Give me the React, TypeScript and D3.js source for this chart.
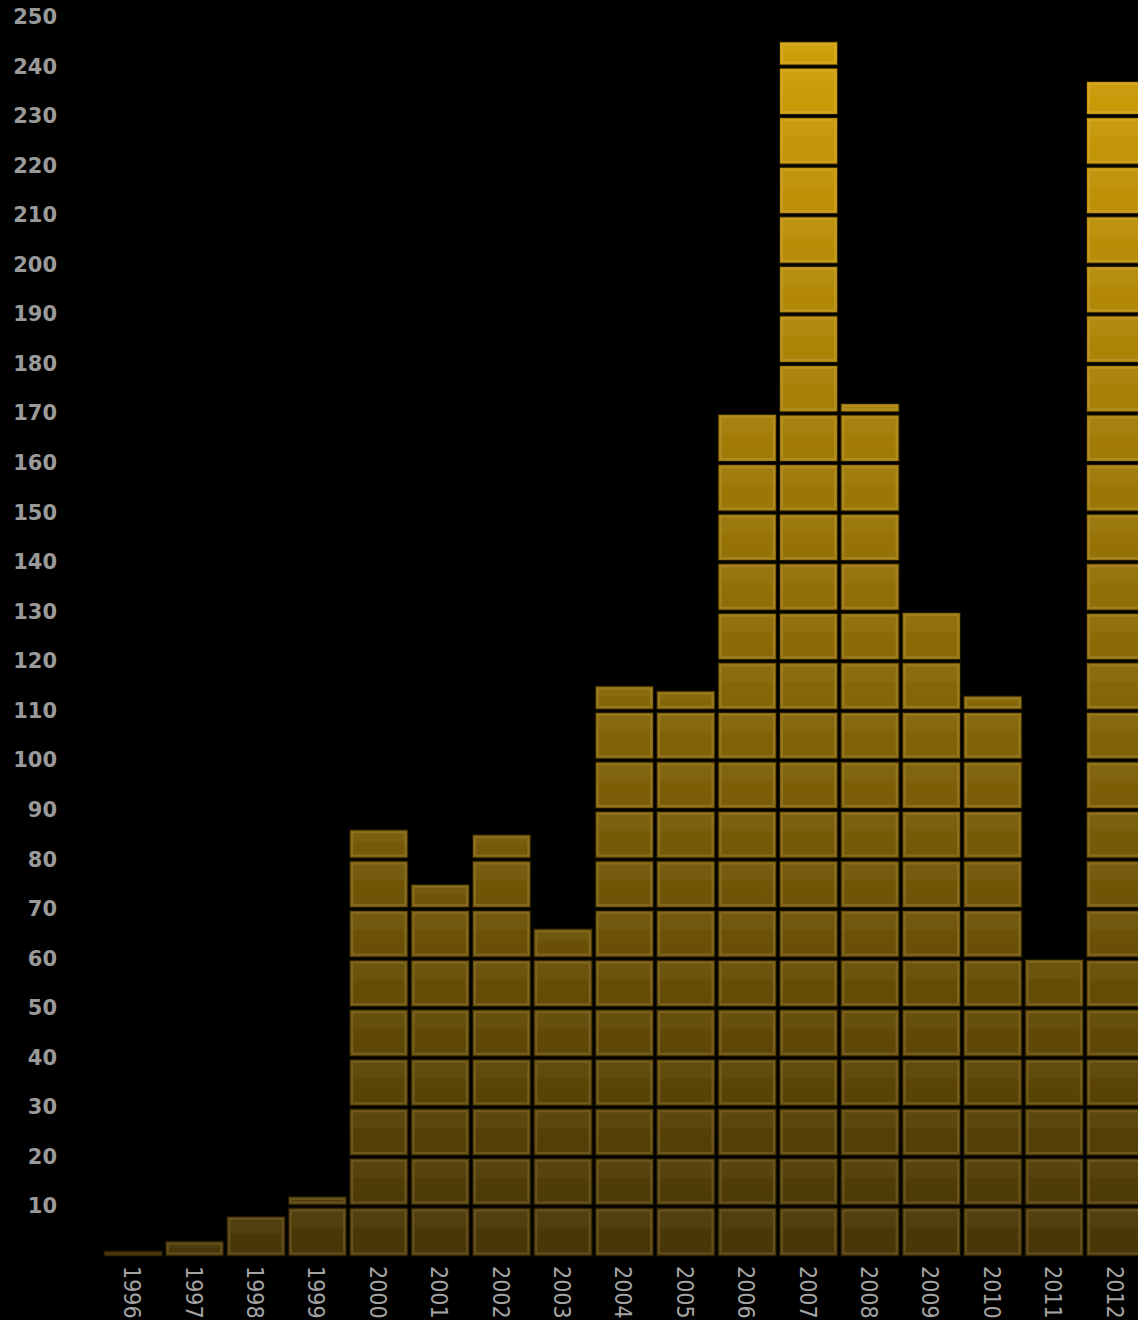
import React from "react";
import * as d3 from "d3";

const years = ["1996","1997","1998","1999","2000","2001","2002","2003","2004","2005","2006","2007","2008","2009","2010","2011","2012"];
const counts = [1, 3, 8, 12, 86, 75, 85, 66, 115, 114, 170, 245, 172, 130, 113, 60, 237];
const yTicks = [10,20,30,40,50,60,70,80,90,100,110,120,130,140,150,160,170,180,190,200,210,220,230,240,250];

const W = 1138;
const H = 1320;
const STEP = 10;
const HALF_GAP = 1.5;

export default function App() {
  const x = d3.scaleBand<string>()
    .domain(years)
    .range([102.5, 102.5 + years.length * 61.4])
    .paddingInner(0.05)
    .paddingOuter(0.025);
  const y = d3.scaleLinear().domain([0, 250]).range([1256, 17]);

  // Each bar is split into stacked cells of 10 units, separated by thin black gaps
  const blocks: { key: string; x: number; y: number; w: number; h: number }[] = [];
  years.forEach((yr, i) => {
    const v = counts[i];
    const n = Math.ceil(v / STEP);
    for (let k = 0; k < n; k++) {
      const lo = k * STEP;
      const hi = Math.min((k + 1) * STEP, v);
      const top = y(hi) + (hi % STEP === 0 && hi !== v ? HALF_GAP : hi % STEP === 0 ? HALF_GAP * 0.5 : 0);
      const bot = y(lo) - (lo > 0 ? HALF_GAP : 0);
      blocks.push({
        key: `${yr}-${k}`,
        x: x(yr)!,
        y: top,
        w: x.bandwidth(),
        h: Math.max(bot - top, 1.5),
      });
    }
  });

  return (
    <svg width={W} height={H} style={{ position: "absolute", left: 0, top: 0, background: "#000" }}>
      <defs>
        <linearGradient id="barFill" gradientUnits="userSpaceOnUse" x1="0" y1={y(0)} x2="0" y2={y(250)}>
          <stop offset="0" stopColor="#473607" />
          <stop offset="0.5" stopColor="#8c6b06" />
          <stop offset="1" stopColor="#d2a008" />
        </linearGradient>
        <linearGradient id="barEdge" gradientUnits="userSpaceOnUse" x1="0" y1={y(0)} x2="0" y2={y(250)}>
          <stop offset="0" stopColor="#6e5824" />
          <stop offset="0.5" stopColor="#a6852c" />
          <stop offset="1" stopColor="#dcb02c" />
        </linearGradient>
      </defs>
      <rect x={0} y={0} width={W} height={H} fill="#000" />
      <g>
        {blocks.map((b) => (
          <g key={b.key}>
            <rect x={b.x} y={b.y} width={b.w} height={b.h} fill="url(#barFill)" stroke="#1a1302" strokeWidth={1} />
            {b.h > 6 && (
              <rect
                x={b.x + 2.5}
                y={b.y + 2.5}
                width={b.w - 5}
                height={b.h - 5}
                fill="none"
                stroke="url(#barEdge)"
                strokeWidth={2}
                opacity={0.75}
              />
            )}
            {b.h > 12 && (
              <rect x={b.x + 3.5} y={b.y + 3.5} width={b.w - 7} height={(b.h - 7) * 0.4} fill="#fff" opacity={0.035} />
            )}
          </g>
        ))}
      </g>
      <g fontFamily="'DejaVu Sans', sans-serif" fontWeight="bold" fontSize={21} fill="#9a9a9a">
        {yTicks.map((t) => (
          <text key={t} x={57} y={y(t)} textAnchor="end" dominantBaseline="central">
            {t}
          </text>
        ))}
      </g>
      <g fontFamily="'DejaVu Sans Condensed', 'Liberation Sans Narrow', sans-serif" fontSize={23} fill="#a4a4a4">
        {years.map((yr) => {
          const cx = x(yr)! + x.bandwidth() / 2 - 1;
          return (
            <text key={yr} transform={`translate(${cx},1266) rotate(90)`} dominantBaseline="central" textAnchor="start">
              {yr}
            </text>
          );
        })}
      </g>
    </svg>
  );
}
